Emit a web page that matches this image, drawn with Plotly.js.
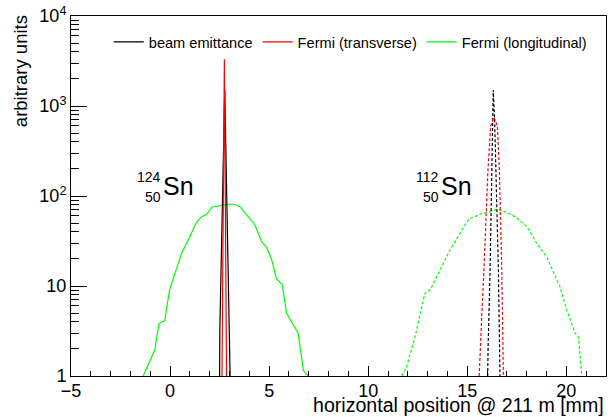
<!DOCTYPE html>
<html>
<head>
<meta charset="utf-8">
<script src="https://cdn.plot.ly/plotly-3.0.1.min.js"></script>
<style>html,body{margin:0;padding:0;background:#fff;}#chart{width:612px;height:417px;}</style>
</head>
<body>
<div id="chart"></div>
<script>
// ---- data ----
// 124Sn (solid lines)
const beamX124 = [2.50, 2.51, 2.76, 3.02, 3.03];
const beamY124 = [1, 3.2, 1500, 2.1, 1];
const transX124 = [2.62, 2.74, 2.85];
const transY124 = [1, 3300, 1];
const longX124 = [-1.36, -1.11, -0.77, -0.56, -0.27, -0.03, 0.15, 0.58, 0.99, 1.33, 1.59, 1.87, 2.09, 2.51, 2.93, 3.27, 3.52, 3.94, 4.28, 4.62, 4.87, 5.12, 5.37, 5.66, 5.88, 6.13, 6.46, 6.73, 6.97];
const longY124 = [1, 1.3, 1.94, 3.85, 4.1, 9.0, 11.7, 23, 35, 51, 59, 63, 75, 78, 81, 81, 76, 59, 48, 31, 27, 20, 12, 10.4, 5, 4, 3, 1.15, 1];
// 112Sn (dashed lines)
const beamX112 = [16.03, 16.05, 16.15, 16.23, 16.26, 16.31, 16.38, 16.45, 16.57, 16.65];
const beamY112 = [1, 2.1, 15, 190, 700, 1500, 700, 190, 15, 1];
const transX112 = [15.60, 15.68, 15.74, 15.84, 16.04, 16.18, 16.34, 16.52, 16.62, 16.74, 16.82];
const transY112 = [1, 2.1, 5.2, 15, 190, 600, 750, 600, 190, 15, 1];
const longX112 = [11.69, 11.94, 12.36, 12.86, 13.12, 13.62, 14.12, 14.63, 15.09, 15.39, 15.73, 16.15, 16.48, 16.90, 17.41, 18.00, 18.50, 19.01, 19.43, 19.68, 20.02, 20.44, 20.61, 20.78];
const longY112 = [1, 1.27, 2.7, 8.3, 9.0, 15, 25, 38.5, 56, 59, 64, 67, 71, 67, 59, 46, 30, 21, 13, 9.8, 5.4, 3.0, 2.7, 1];

const seriesNames = ["beam emittance", "Fermi (transverse)", "Fermi (longitudinal)"];
const yTickVals = [1, 10, 100, 1000, 10000];
const yTickText = ["1", "10", "10<sup>2</sup>", "10<sup>3</sup>", "10<sup>4</sup>"];
const yMinorVals = [];
for (let d = 0; d < 4; d++) for (let k = 2; k <= 9; k++) yMinorVals.push(k * Math.pow(10, d));

const FONT = "Liberation Sans, Arial, Helvetica, sans-serif";
const GREEN = "#00ff00", RED = "#ff0000", BLACK = "#000000";
const DASH = "3px,2px";

const traces = [
  {x: longX124, y: longY124, name: seriesNames[2], legendrank: 3, mode: "lines", line: {color: GREEN, width: 1.2}},
  {x: beamX124, y: beamY124, name: seriesNames[0], legendrank: 1, mode: "lines", line: {color: BLACK, width: 1.2}},
  {x: transX124, y: transY124, name: seriesNames[1], legendrank: 2, mode: "lines", line: {color: RED, width: 1.2}},
  {x: longX112, y: longY112, showlegend: false, mode: "lines", line: {color: GREEN, width: 1.2, dash: DASH}},
  {x: beamX112, y: beamY112, showlegend: false, mode: "lines", line: {color: BLACK, width: 1.2, dash: DASH}},
  {x: transX112, y: transY112, showlegend: false, mode: "lines", line: {color: RED, width: 1.2, dash: DASH}}
];

const layout = {
  width: 612, height: 417,
  margin: {l: 71, r: 6, t: 16, b: 41},
  paper_bgcolor: "#fff", plot_bgcolor: "#fff",
  font: {family: FONT, color: "#000"},
  showlegend: true,
  legend: {orientation: "h", x: 0.0706, xanchor: "left", y: 0.928, yanchor: "middle",
           font: {family: FONT, size: 14.6, color: "#000"}, bgcolor: "rgba(0,0,0,0)", borderwidth: 0},
  xaxis: {
    range: [-5, 22], tick0: 0, dtick: 5, ticks: "inside", ticklen: 10, tickwidth: 1, tickcolor: "#000",
    minor: {dtick: 1, ticks: "inside", ticklen: 5, tickcolor: "#000", showgrid: false},
    showline: true, linecolor: "#000", linewidth: 1, mirror: true, showgrid: false, zeroline: false,
    ticklabelstandoff: -2,
    tickfont: {family: FONT, size: 18, color: "#000"}
  },
  yaxis: {
    type: "log", range: [0, 4], tickmode: "array", tickvals: yTickVals, ticktext: yTickText,
    ticks: "inside", ticklen: 16, tickwidth: 1, tickcolor: "#000",
    minor: {tickmode: "array", tickvals: yMinorVals, ticks: "inside", ticklen: 8, tickcolor: "#000", showgrid: false},
    showline: true, linecolor: "#000", linewidth: 1, mirror: true, showgrid: false, zeroline: false,
    tickfont: {family: FONT, size: 18, color: "#000"}
  },
  annotations: [
    {xref: "paper", yref: "paper", x: 1.0, y: -0.0806, xanchor: "right", yanchor: "middle", showarrow: false,
     text: "horizontal position @ 211 m [mm]", font: {family: FONT, size: 19.6, color: "#000"}},
    {xref: "paper", yref: "paper", x: -0.0953, y: 1.008, xanchor: "center", yanchor: "top", textangle: -90, showarrow: false,
     text: "arbitrary units", font: {family: FONT, size: 18.5, color: "#000"}},
    {xref: "paper", yref: "paper", x: 0.1714, y: 0.5528, xanchor: "right", yanchor: "middle", showarrow: false,
     text: "124", font: {family: FONT, size: 14, color: "#000"}},
    {xref: "paper", yref: "paper", x: 0.1714, y: 0.498, xanchor: "right", yanchor: "middle", showarrow: false,
     text: "50", font: {family: FONT, size: 14, color: "#000"}},
    {xref: "paper", yref: "paper", x: 0.1744, y: 0.5267, xanchor: "left", yanchor: "middle", xshift: -3, showarrow: false,
     text: "Sn", font: {family: FONT, size: 25, color: "#000"}},
    {xref: "paper", yref: "paper", x: 0.6912, y: 0.5528, xanchor: "right", yanchor: "middle", showarrow: false,
     text: "112", font: {family: FONT, size: 14, color: "#000"}},
    {xref: "paper", yref: "paper", x: 0.6912, y: 0.498, xanchor: "right", yanchor: "middle", showarrow: false,
     text: "50", font: {family: FONT, size: 14, color: "#000"}},
    {xref: "paper", yref: "paper", x: 0.694, y: 0.5267, xanchor: "left", yanchor: "middle", xshift: -3, showarrow: false,
     text: "Sn", font: {family: FONT, size: 25, color: "#000"}}
  ]
};

Plotly.newPlot("chart", traces, layout, {staticPlot: true, displayModeBar: false});
</script>
</body>
</html>
